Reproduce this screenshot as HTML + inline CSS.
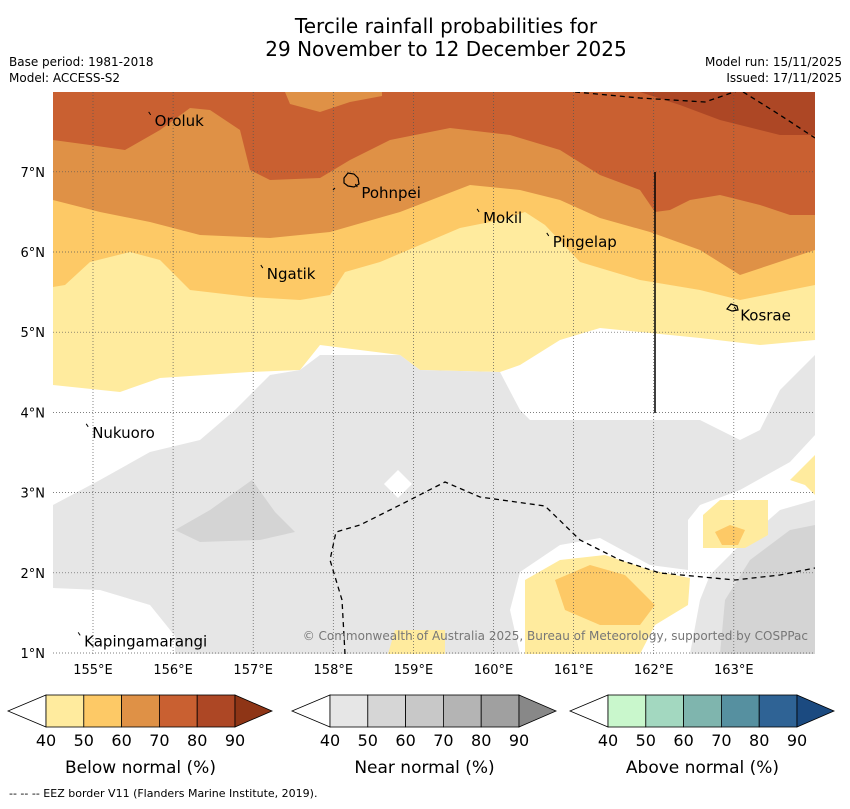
<!DOCTYPE html>
<html><head><meta charset="utf-8"><style>
body{margin:0;background:#fff;font-family:"Liberation Sans","DejaVu Sans",sans-serif}
svg text{font-family:"DejaVu Sans","Liberation Sans",sans-serif}
</style></head><body>
<svg id="chart" width="850" height="804" viewBox="0 0 850 804" xmlns="http://www.w3.org/2000/svg">
<text x="446" y="33" font-size="20" text-anchor="middle">Tercile rainfall probabilities for</text>
<text x="446" y="56" font-size="20" text-anchor="middle">29 November to 12 December 2025</text>
<text x="9" y="66" font-size="12">Base period: 1981-2018</text>
<text x="9" y="82" font-size="12">Model: ACCESS-S2</text>
<text x="842" y="66" font-size="12" text-anchor="end">Model run: 15/11/2025</text>
<text x="842" y="82" font-size="12" text-anchor="end">Issued: 17/11/2025</text>
<defs><clipPath id="mc"><rect x="53" y="92" width="762" height="562"/></clipPath></defs>
<g id="map" clip-path="url(#mc)">
<rect x="53" y="92" width="762" height="562" fill="#fff"/>
<polygon fill="#ffeb9e" points="53,92 815,92 815,340 760,345 700,338 600,328 560,340 520,365 500,372 420,370 400,355 320,345 300,370 250,372 160,378 120,392 53,385"/>
<polygon fill="#fdc966" points="53,92 815,92 815,285 780,292 740,300 700,290 640,280 580,262 545,225 525,212 500,220 460,228 420,245 380,262 345,272 330,295 300,300 250,297 190,290 160,260 130,252 90,262 65,285 53,287"/>
<polygon fill="#df9146" points="53,92 815,92 815,250 770,265 740,275 700,250 650,232 600,218 560,200 520,190 470,185 400,212 330,232 270,238 200,235 150,222 100,212 53,200"/>
<polygon fill="#c96031" points="53,92 815,92 815,215 790,215 760,205 720,195 690,200 670,210 655,212 640,190 600,175 560,150 510,135 450,128 390,140 350,160 320,178 270,180 250,170 240,130 210,110 190,108 160,130 125,150 90,145 53,140"/>
<polygon fill="#df9146" points="285,92 290,104 320,112 350,102 382,96 382,92"/>
<polygon fill="#ad4725" points="640,92 815,92 815,135 780,135 720,120 680,105"/>
<polygon fill="#e6e6e6" points="53,505 100,480 150,452 200,440 235,410 270,375 300,370 320,355 400,355 420,370 500,372 520,410 530,420 700,420 740,440 760,430 780,390 800,370 815,355 815,435 790,462 740,490 700,505 688,520 688,570 650,565 600,538 560,545 520,572 510,610 520,654 175,654 175,636 150,605 100,590 53,588"/>
<polygon fill="#d4d4d4" points="175,530 210,510 252,480 275,512 295,532 260,540 200,542"/>
<polygon fill="#fff" points="398,470 412,484 398,498 384,484"/>
<polygon fill="#e6e6e6" points="815,500 780,510 740,545 710,575 700,600 690,654 815,654"/>
<polygon fill="#d4d4d4" points="815,525 790,530 750,560 725,600 720,654 815,654"/>
<polygon fill="#ffeb9e" points="525,580 560,560 605,555 650,570 690,578 688,605 655,625 640,654 525,654"/>
<polygon fill="#fdc966" points="555,580 590,565 625,575 655,605 640,625 600,625 565,610"/>
<polygon fill="#ffeb9e" points="703,515 720,500 768,500 768,535 745,548 703,548"/>
<polygon fill="#fdc966" points="715,532 730,525 745,530 738,545 722,545"/>
<polygon fill="#ffeb9e" points="790,480 815,455 815,495 805,485"/>
<polygon fill="#ffeb9e" points="395,630 445,630 445,654 388,654"/>
<g id="grid" stroke="#555" stroke-width="0.7" stroke-dasharray="1,2"></g>
<polyline fill="none" stroke="#000" stroke-width="1.3" stroke-dasharray="5,4" points="575,92 640,98 705,102 740,90 780,115 815,138"/>
<polyline fill="none" stroke="#000" stroke-width="1.3" stroke-dasharray="5,4" points="345,654 342,600 330,560 336,532 360,525 400,505 445,482 480,497 545,506 580,540 620,560 660,573 735,580 780,575 815,568"/>
<line x1="655" y1="172" x2="655" y2="413" stroke="#000" stroke-width="1.5"/>
<path d="M344,178 l4,-5 l6,1 l4,4 l1,6 l-5,3 l-6,-1 l-4,-3 z" fill="none" stroke="#000" stroke-width="1.2"/>
<path d="M333,190 l2,-2" stroke="#000" stroke-width="1"/>
<path d="M727,309 l4,-5 l6,2 l1,4 l-6,1 z" fill="none" stroke="#000" stroke-width="1.2"/>
<g id="places"></g>
</g>
<g id="axes"></g>
<text x="808" y="640" font-size="12" fill="#777" text-anchor="end">© Commonwealth of Australia 2025, Bureau of Meteorology, supported by COSPPac</text>
<g id="bars"></g>
<text x="9" y="797" font-size="11">--  --  -- EEZ border V11 (Flanders Marine Institute, 2019).</text>
</svg>
<script>
const lonTicks=[155,156,157,158,159,160,161,162,163];
const latTicks=[1,2,3,4,5,6,7];
const placeNames=["Oroluk","Pohnpei","Mokil","Pingelap","Ngatik","Kosrae","Nukuoro","Kapingamarangi"];
const placeLon=[155.72,158.30,159.82,160.69,157.12,163.03,154.94,154.84];
const placeLat=[7.71,6.81,6.50,6.20,5.80,5.28,3.82,1.22];
const cbTicks=[40,50,60,70,80,90];
const belowColors=["#ffeb9e","#fdc966","#df9146","#c96031","#ad4725","#8e3516"];
const nearColors=["#e6e6e6","#d6d6d6","#c8c8c8","#b4b4b4","#a0a0a0","#888888"];
const aboveColors=["#c9f7cc","#a3d8c0","#7fb5ae","#5690a0","#2f6395","#1b4a80"];
const NS="http://www.w3.org/2000/svg";
const xOf=lon=>93+(lon-155)*80.1;
const yOf=lat=>653-(lat-1)*80.2;
function mk(tag,attrs,parent,text){const e=document.createElementNS(NS,tag);for(const k in attrs)e.setAttribute(k,attrs[k]);if(text!==undefined)e.textContent=text;parent.appendChild(e);return e;}
const grid=document.getElementById('grid'),axes=document.getElementById('axes');
lonTicks.forEach(l=>{const x=xOf(l);
 const g=mk('line',{x1:x,y1:92,x2:x,y2:654},grid);
 
 
 const t=mk('text',{x:x,y:674,'font-size':13,'text-anchor':'middle'},axes,l+'°E');
 
 });
latTicks.forEach(l=>{const y=yOf(l);
 const g=mk('line',{x1:53,y1:y,x2:815,y2:y},grid);
 
 
 const t=mk('text',{x:45,y:y+5,'font-size':13,'text-anchor':'end'},axes,l+'°N');
 
 });
const places=document.getElementById('places');
placeNames.forEach((n,i)=>{const x=xOf(placeLon[i]),y=yOf(placeLat[i]);
 const d=mk('path',{d:`M${x-2},${y-3} l2,3`,stroke:'#000','stroke-width':1,fill:'none'},places);
 
 
 const t=mk('text',{x:x+4,y:y+11,'font-size':15},places,n);
 
 });
const bars=document.getElementById('bars');
function colorbar(x0,colors,label,name){
 const w=37.8,y0=695,h=32;
 const g=mk('g',{},bars);
 
 
 mk('polygon',{points:`${x0-38},${y0+h/2} ${x0},${y0} ${x0},${y0+h}`,fill:'#fff',stroke:'#000','stroke-width':0.8},g);
 for(let i=0;i<5;i++) mk('rect',{x:x0+i*w,y:y0,width:w,height:h,fill:colors[i],stroke:'#000','stroke-width':0.8},g);
 const xe=x0+5*w;
 mk('polygon',{points:`${xe},${y0} ${xe+37},${y0+h/2} ${xe},${y0+h}`,fill:colors[5],stroke:'#000','stroke-width':0.8},g);
 cbTicks.forEach((v,i)=>{const t=mk('text',{x:x0+i*w,y:746,'font-size':16,'text-anchor':'middle'},g,String(v));
  
  });
 const t=mk('text',{x:x0+2.5*w,y:773,'font-size':17,'text-anchor':'middle'},g,label);
 
 
}
colorbar(46,belowColors,'Below normal (%)','below-normal-colorbar');
colorbar(330,nearColors,'Near normal (%)','near-normal-colorbar');
colorbar(608,aboveColors,'Above normal (%)','above-normal-colorbar');
</script>
</body></html>
